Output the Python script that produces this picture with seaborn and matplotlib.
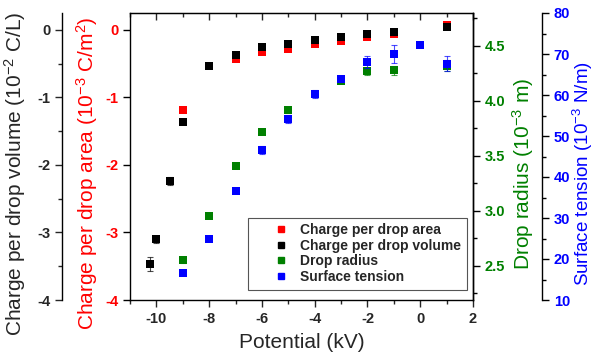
import matplotlib
matplotlib.use("Agg")
import matplotlib.pyplot as plt
import seaborn as sns
import pandas as pd
from matplotlib.ticker import MultipleLocator, FormatStrFormatter
from matplotlib.lines import Line2D
from matplotlib.patches import Rectangle

# data
potential_area = [-9, -7, -6, -5, -4, -3, -2, -1, 1]
charge_area = [-1.18, -0.43, -0.33, -0.28, -0.21, -0.17, -0.11, -0.06, 0.07]

potential_vol = [-10.25, -10, -9.5, -9, -8, -7, -6, -5, -4, -3, -2, -1, 1]
charge_vol = [-3.47, -3.10, -2.24, -1.36, -0.54, -0.37, -0.26, -0.21, -0.15, -0.11, -0.06, -0.03, 0.04]
charge_vol_err = [0.10, 0.055, 0.06, 0.03, 0.01, 0.01, 0.01, 0.01, 0.01, 0.01, 0.01, 0.01, 0.02]

potential_radius = [-9, -8, -7, -6, -5, -4, -3, -2, -1, 1]
drop_radius = [2.55, 2.95, 3.41, 3.72, 3.92, 4.06, 4.18, 4.27, 4.28, 4.32]
radius_err = [0.02, 0.01, 0.01, 0.01, 0.01, 0.02, 0.02, 0.03, 0.04, 0.05]

potential_tension = [-9, -8, -7, -6, -5, -4, -3, -2, -1, 0, 1]
surface_tension = [16.5, 24.8, 36.7, 46.6, 54.1, 60.2, 63.9, 68.1, 70.0, 72.1, 67.6]
tension_err = [0.4, 0.4, 0.4, 1.0, 1.0, 1.0, 0.8, 1.5, 2.2, 0.4, 1.8]

series_names = ["Charge per drop area", "Charge per drop volume", "Drop radius", "Surface tension"]

RED, BLACK, GREEN, BLUE = "#ff0000", "#000000", "#008000", "#0000ff"

sns.set_style("ticks")
plt.rcParams["font.family"] = ["Liberation Sans", "DejaVu Sans"]
plt.rcParams["mathtext.default"] = "regular"
plt.rcParams["axes.unicode_minus"] = False

W, H = 596, 359
fig = plt.figure(figsize=(W / 100, H / 100), dpi=100)
ax = fig.add_axes([130 / W, 1 - 300 / H, 343 / W, 287 / H])
ax_vol = ax.twinx()
ax_rad = ax.twinx()
ax_ten = ax.twinx()

TICK_SIZE = 10.5
LABEL_SIZE = 15


def draw(axis, x, y, err, color):
    df = pd.DataFrame({"x": x, "y": y})
    if err is not None:
        axis.errorbar(x, y, yerr=err, fmt="none", ecolor=color, elinewidth=0.8,
                      capsize=2, capthick=0.8, alpha=0.7)
    sns.scatterplot(data=df, x="x", y="y", ax=axis, marker="s", s=28,
                    color=color, linewidth=0, legend=False)
    axis.set_xlabel("")
    axis.set_ylabel("")


def bold_ticks(axis, which="y"):
    labs = axis.get_yticklabels() if which == "y" else axis.get_xticklabels()
    for lab in labs:
        lab.set_fontweight("bold")


draw(ax, potential_area, charge_area, None, RED)
draw(ax_vol, potential_vol, charge_vol, charge_vol_err, BLACK)
draw(ax_rad, potential_radius, drop_radius, radius_err, GREEN)
draw(ax_ten, potential_tension, surface_tension, tension_err, BLUE)

# x axis
ax.set_xlim(-11, 2)
ax.xaxis.set_major_locator(MultipleLocator(2))
ax.xaxis.set_minor_locator(MultipleLocator(1))
ax.tick_params(axis="x", which="major", direction="out", length=5, width=1, labelsize=TICK_SIZE)
ax.tick_params(axis="x", which="minor", direction="out", length=3, width=1)
bold_ticks(ax, "x")
top = ax.secondary_xaxis("top")
top.xaxis.set_major_locator(MultipleLocator(2))
top.xaxis.set_minor_locator(MultipleLocator(1))
top.tick_params(axis="x", which="major", direction="in", length=5, width=1, labeltop=False)
top.tick_params(axis="x", which="minor", direction="in", length=3, width=1)
ax.set_xlabel("Potential (kV)", fontsize=LABEL_SIZE)
ax.xaxis.set_label_coords(0.5, -0.115)

# red: charge per drop area (inner left)
ax.set_ylim(-4, 0.25)
ax.yaxis.set_major_locator(MultipleLocator(1))
ax.tick_params(axis="y", direction="out", length=5, width=1, colors=BLACK,
               labelcolor=RED, labelsize=TICK_SIZE)
bold_ticks(ax)
ax.set_ylabel("Charge per drop area (10$^{-3}$ C/m$^{2}$)", color=RED, fontsize=LABEL_SIZE)
ax.yaxis.set_label_coords(-0.087, 0.44)

# black: charge per drop volume (outer left)
ax_vol.set_ylim(-4, 0.25)
ax_vol.yaxis.set_ticks_position("left")
ax_vol.yaxis.set_label_position("left")
ax_vol.spines["left"].set_position(("axes", -68 / 343))
ax_vol.spines["right"].set_visible(False)
ax_vol.yaxis.set_major_locator(MultipleLocator(1))
ax_vol.yaxis.set_minor_locator(MultipleLocator(0.5))
ax_vol.tick_params(axis="y", which="major", direction="out", length=5, width=1, labelsize=TICK_SIZE)
ax_vol.tick_params(axis="y", which="minor", direction="out", length=3, width=1)
bold_ticks(ax_vol)
ax_vol.set_ylabel("Charge per drop volume (10$^{-2}$ C/L)", fontsize=LABEL_SIZE)
ax_vol.yaxis.set_label_coords(-0.297, 0.44)

# green: drop radius (inner right)
ax_rad.set_ylim(2.19, 4.8)
ax_rad.yaxis.set_major_locator(MultipleLocator(0.5))
ax_rad.yaxis.set_minor_locator(MultipleLocator(0.25))
ax_rad.yaxis.set_major_formatter(FormatStrFormatter("%.1f"))
ax_rad.tick_params(axis="y", which="major", direction="out", length=5, width=1,
                   colors=BLACK, labelcolor=GREEN, labelsize=TICK_SIZE)
ax_rad.tick_params(axis="y", which="minor", direction="out", length=3, width=1, colors=BLACK)
bold_ticks(ax_rad)
ax_rad.set_ylabel("Drop radius (10$^{-3}$ m)", color=GREEN, fontsize=LABEL_SIZE)
ax_rad.yaxis.set_label_coords(1.108, 0.44)

# blue: surface tension (outer right)
ax_ten.set_ylim(10, 80)
ax_ten.spines["right"].set_position(("axes", (542 - 130) / 343))
ax_ten.yaxis.set_major_locator(MultipleLocator(10))
ax_ten.yaxis.set_minor_locator(MultipleLocator(5))
ax_ten.tick_params(axis="y", which="major", direction="out", length=5, width=1,
                   colors=BLACK, labelcolor=BLUE, labelsize=TICK_SIZE)
ax_ten.tick_params(axis="y", which="minor", direction="out", length=3, width=1, colors=BLACK)
bold_ticks(ax_ten)
ax_ten.set_ylabel("Surface tension (10$^{-3}$ N/m)", color=BLUE, fontsize=13.5)
ax_ten.yaxis.set_label_coords(1.284, 0.44)

for a in (ax, ax_vol, ax_rad, ax_ten):
    for sp in a.spines.values():
        sp.set_linewidth(1)
        sp.set_color(BLACK)
for a in (ax_vol, ax_rad, ax_ten):
    a.spines["top"].set_visible(False)
    a.spines["bottom"].set_visible(False)
ax_rad.spines["left"].set_visible(False)
ax_ten.spines["left"].set_visible(False)

# legend (frame drawn separately to get the wide left margin of the original)
colors = [RED, BLACK, GREEN, BLUE]
handles = [Line2D([], [], marker="s", ls="", color=c, markersize=5) for c in colors]
leg = ax_ten.legend(handles, series_names, loc="upper left",
                    bbox_to_anchor=(271.5 / W, 1 - 223 / H), bbox_transform=fig.transFigure,
                    prop=dict(size=10, weight="bold"), frameon=False,
                    handlelength=1.4, handletextpad=0.68, labelspacing=0.12,
                    borderpad=0, borderaxespad=0)
leg_frame = Rectangle((248 / W, 1 - 290 / H), (467 - 248) / W, 72 / H,
                      transform=fig.transFigure, facecolor="white",
                      edgecolor="#555555", linewidth=0.8, zorder=4, clip_on=False)
ax_ten.add_artist(leg_frame)

fig.savefig("out.png", dpi=100)
